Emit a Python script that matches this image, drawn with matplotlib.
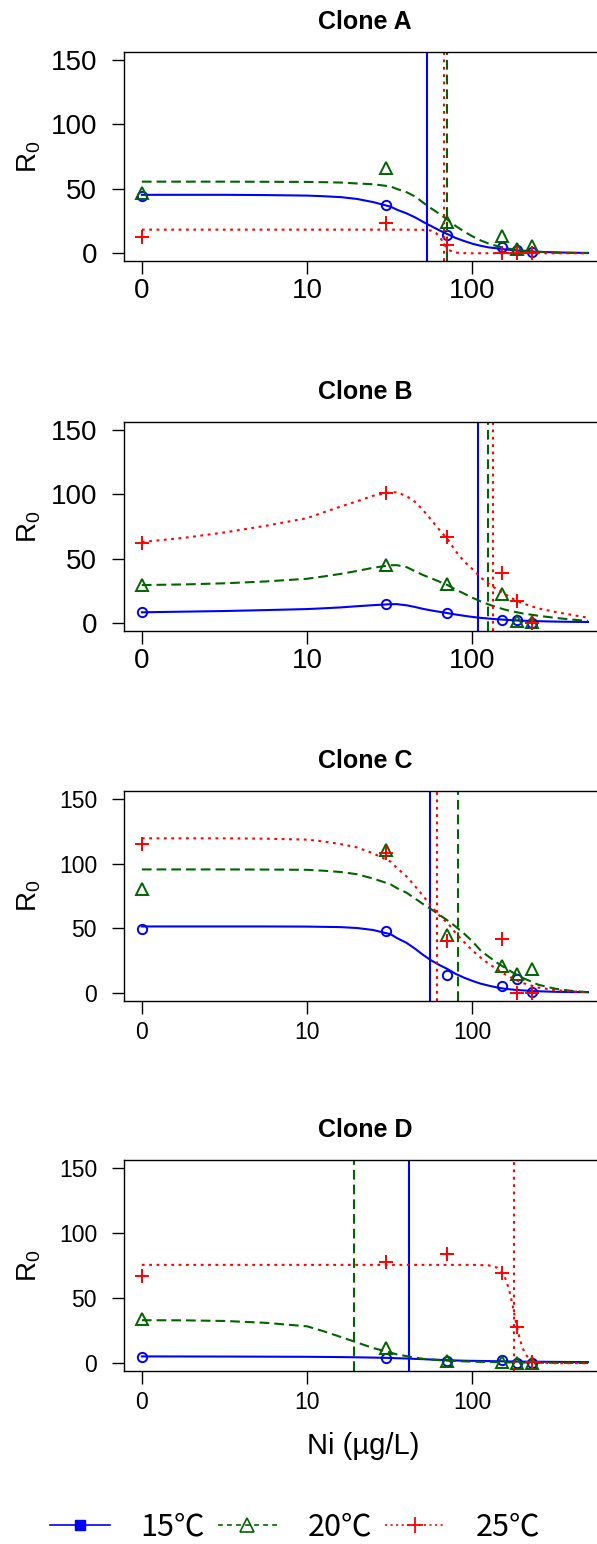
import numpy as np
import matplotlib
matplotlib.use("Agg")
import matplotlib.pyplot as plt
from matplotlib.lines import Line2D
from matplotlib.font_manager import FontProperties

plt.rcParams['font.family'] = ['Liberation Sans', 'DejaVu Sans']
plt.rcParams['mathtext.fontset'] = 'custom'
plt.rcParams['mathtext.rm'] = 'Liberation Sans'
plt.rcParams['lines.scale_dashes'] = False

# ---------------- data ----------------
CLONES = ["Clone A", "Clone B", "Clone C", "Clone D"]
TEMPS = ["15\u2103", "20\u2103", "25\u2103"]
XTICK_VALUES = [0, 10, 100]
XTICK_LABELS = ["0", "10", "100"]
YTICKS = [0, 50, 100, 150]

# measured Ni concentrations (ug/L)
CONC = [0, 30, 70, 150, 186, 228]

# observed R0 per clone and temperature (15, 20, 25 C)
A_15 = [44.5, 37.5, 14.2, 4.7, 2.6, 1.0]
A_20 = [46.8, 66.0, 24.6, 13.5, 3.0, 6.0]
A_25 = [12.3, 23.8, 6.5, 0.0, 0.0, 0.0]
B_15 = [8.5, 14.8, 8.0, 2.8, 2.3, 0.5]
B_20 = [29.6, 45.5, 30.3, 23.0, 2.0, 1.0]
B_25 = [62.3, 101.2, 67.0, 39.3, 17.3, 0.0]
C_15 = [49.3, 48.1, 14.0, 5.7, 11.0, 1.0]
C_20 = [80.7, 110.5, 45.0, 21.2, 14.8, 18.4]
C_25 = [114.8, 108.0, 39.9, 41.7, 0.0, 0.5]
D_15 = [5.1, 3.6, 1.8, 2.3, 0.5, 0.3]
D_20 = [33.8, 11.9, 1.8, 1.0, 0.5, 0.5]
D_25 = [67.2, 77.9, 83.9, 69.6, 27.7, 1.0]

# fitted curves
CURVE_CONC = [0, 1.8, 3.2, 5.6, 10, 12.6, 16, 20, 25, 32, 35, 40, 45, 50, 56, 63, 71, 79, 89,
              100, 112, 126, 141, 158, 178, 200, 251, 316, 398, 500]
A_15_FIT = [45.3, 45.3, 45.3, 45.1, 44.7, 44.2, 43.5, 42.1, 39.7, 36.1, 33.7, 30.9, 27.8, 24.5,
            21.2, 17.8, 14.7, 11.9, 9.5, 7.4, 5.8, 4.5, 3.8, 3.0, 2.3, 1.8, 1.1, 0.7, 0.4, 0.3]
A_20_FIT = [55.5, 55.5, 55.5, 55.4, 55.3, 55.1, 54.8, 54.1, 53.5, 51.8, 49.8, 47.3, 44.0, 39.5,
            35.0, 30.6, 25.8, 21.2, 16.9, 13.1, 10.0, 7.4, 5.5, 4.0, 2.9, 2.1, 1.1, 0.5, 0.3, 0.1]
A_25_FIT_CONC = [0, 10, 32, 50, 56, 60, 63, 66, 69, 72, 76, 79, 89, 100, 158, 500]
A_25_FIT = [18.3, 18.3, 18.3, 18.2, 17.6, 15.8, 13.1, 9.2, 5.2, 2.5, 1.1, 0.5, 0.1, 0.0, 0.0, 0.0]

B_15_FIT = [8.5, 9.0, 9.5, 10.2, 11.0, 11.6, 12.3, 13.2, 14.0, 14.8, 14.8, 13.9, 12.6, 11.2, 10.0,
            8.9, 7.8, 6.8, 5.8, 4.9, 4.2, 3.6, 3.1, 2.7, 2.3, 2.0, 1.6, 1.3, 1.1, 1.0]
B_20_FIT = [29.6, 30.1, 31.0, 32.4, 34.5, 36.3, 38.3, 40.5, 43.0, 45.0, 45.0, 43.5, 40.3, 37.5,
            35.0, 32.3, 29.5, 26.2, 23.0, 19.8, 17.0, 14.5, 12.3, 10.5, 9.0, 7.7, 5.8, 4.2, 2.9, 1.8]
B_25_FIT = [63.0, 66.2, 70.5, 75.5, 81.5, 86.0, 90.5, 94.5, 98.8, 101.5, 101.5, 98.5, 94.0, 88.0,
            80.5, 72.5, 65.0, 56.0, 48.0, 42.0, 35.5, 30.5, 26.0, 22.5, 18.5, 15.5, 11.5, 8.8,
            6.5, 4.3]

C_15_FIT = [51.5, 51.5, 51.5, 51.5, 51.4, 51.2, 51.0, 50.3, 48.8, 45.5, 42.5, 38.8, 34.3, 29.8,
            25.5, 21.8, 18.5, 15.0, 12.0, 9.5, 7.4, 5.8, 4.4, 3.4, 2.7, 2.2, 1.5, 1.1, 0.9, 0.8]
C_20_FIT = [95.5, 95.5, 95.5, 95.4, 95.2, 94.5, 93.5, 91.8, 88.5, 84.0, 81.0, 77.5, 73.0, 69.0,
            65.0, 60.5, 56.0, 51.5, 46.0, 40.0, 33.0, 28.0, 23.5, 19.5, 15.5, 12.0, 6.5, 3.5,
            1.8, 0.8]
C_25_FIT = [119.5, 119.5, 119.5, 119.2, 118.5, 117.0, 115.0, 112.5, 108.0, 101.5, 96.5, 90.0,
            82.5, 75.5, 67.5, 60.0, 54.0, 46.5, 39.5, 33.0, 27.5, 22.5, 18.5, 14.5, 11.0, 8.0,
            4.3, 2.4, 1.4, 0.8]

D_15_FIT = [5.2, 5.15, 5.1, 5.0, 4.9, 4.8, 4.7, 4.5, 4.3, 4.0, 3.8, 3.6, 3.3, 3.1, 2.8, 2.6,
            2.3, 2.1, 1.9, 1.8, 1.7, 1.6, 1.5, 1.4, 1.3, 1.2, 1.1, 1.0, 0.9, 0.8]
D_20_FIT = [33.0, 32.9, 32.4, 31.0, 28.3, 24.5, 20.1, 15.9, 11.7, 8.1, 6.7, 5.4, 4.3, 3.4, 2.8,
            2.3, 2.0, 1.7, 1.4, 1.2, 1.0, 0.9, 0.8, 0.7, 0.6, 0.5, 0.4, 0.3, 0.2, 0.1]
D_25_FIT_CONC = [0, 10, 32, 100, 126, 141, 151, 158, 166, 174, 182, 191, 200, 209, 224, 251, 316, 500]
D_25_FIT = [75.5, 75.5, 75.5, 75.5, 75.1, 73.4, 69.9, 65.1, 57.2, 46.1, 33.2, 21.3, 12.4, 6.8,
            2.6, 0.5, 0.0, 0.0]

# EC50 vertical lines (15, 20, 25 C)
EC_A = [53.1, 70.1, 66.9]
EC_B = [107.9, 125.0, 133.0]
EC_C = [55.1, 81.3, 61.0]
EC_D = [41.1, 19.3, 179.0]

# --------------- styling ---------------
COLORS = ["#0000ff", "#006400", "#ff0000"]
LSTYLES = ["-", (0, (7.0, 3.6)), (0, (2.0, 3.3))]
MARKERS = ["o", "^", "+"]
MSIZES = [6.7, 9.0, 9.5]
LW = 1.5

W, H = 597, 1544
fig = plt.figure(figsize=(W / 100, H / 100), dpi=100)


def pos(c):
    c = np.asarray(c, dtype=float)
    return np.log10(np.maximum(c, 1.0))


panel_px = [(52, 261), (422, 631), (791, 1001), (1160, 1371)]
tick_fs = [20, 20, 16.5, 16.5]
xpad = [3.6, 3.6, 5.6, 5.6]

obs = [[A_15, A_20, A_25], [B_15, B_20, B_25], [C_15, C_20, C_25], [D_15, D_20, D_25]]
fits = [
    [(CURVE_CONC, A_15_FIT), (CURVE_CONC, A_20_FIT), (A_25_FIT_CONC, A_25_FIT)],
    [(CURVE_CONC, B_15_FIT), (CURVE_CONC, B_20_FIT), (CURVE_CONC, B_25_FIT)],
    [(CURVE_CONC, C_15_FIT), (CURVE_CONC, C_20_FIT), (CURVE_CONC, C_25_FIT)],
    [(CURVE_CONC, D_15_FIT), (CURVE_CONC, D_20_FIT), (D_25_FIT_CONC, D_25_FIT)],
]
ecs = [EC_A, EC_B, EC_C, EC_D]

left_px, right_px = 124, 606
for i, (top, bot) in enumerate(panel_px):
    ax = fig.add_axes([left_px / W, 1 - bot / H, (right_px - left_px) / W, (bot - top) / H])
    for k in range(3):
        fx, fy = fits[i][k]
        ax.plot(pos(fx), fy, color=COLORS[k], linestyle=LSTYLES[k], lw=LW)
        ax.axvline(pos(ecs[i][k]), color=COLORS[k], linestyle=LSTYLES[k], lw=LW)
        ax.plot(pos(CONC), obs[i][k], linestyle='none', marker=MARKERS[k],
                markersize=MSIZES[k], markerfacecolor='none', markeredgecolor=COLORS[k],
                markeredgewidth=1.4)
    ax.set_xlim(-0.108, 2.808)
    ax.set_ylim(-6, 156)
    ax.set_xticks(pos(XTICK_VALUES))
    ax.set_xticklabels(XTICK_LABELS)
    ax.set_yticks(YTICKS)
    ax.tick_params(axis='both', direction='out', length=9, width=1.0, labelsize=tick_fs[i])
    ax.tick_params(axis='y', pad=10.4)
    ax.tick_params(axis='x', pad=xpad[i])
    for sp in ax.spines.values():
        sp.set_linewidth(1.0)
    ax.set_title(CLONES[i], fontweight='bold', fontsize=18, pad=16.5)
    ax.text(-0.196, 0.5, r'$\mathregular{R_0}$', rotation=90, ha='center', va='center',
            fontsize=20, transform=ax.transAxes)

fig.text(363 / W, 1 - 1446 / H, "Ni (\u00b5g/L)", ha='center', va='center', fontsize=21)

handles = [
    Line2D([], [], color=COLORS[0], linestyle='-', lw=1.2, marker='s', markersize=7.5,
           markerfacecolor=COLORS[0], markeredgecolor=COLORS[0]),
    Line2D([], [], color=COLORS[1], linestyle=(0, (3.5, 3.0)), lw=1.2, marker='^', markersize=9.5,
           markerfacecolor='none', markeredgecolor=COLORS[1], markeredgewidth=1.2),
    Line2D([], [], color=COLORS[2], linestyle=(0, (1.5, 2.5)), lw=1.2, marker='+', markersize=11,
           markeredgecolor=COLORS[2], markeredgewidth=1.3),
]
leg_font = FontProperties(family=['Noto Sans CJK SC', 'DejaVu Sans'], size=22)
fig.legend(handles, TEMPS, loc='center', bbox_to_anchor=(295 / W, 1 - 1527 / H), ncol=3,
           frameon=False, prop=leg_font, handlelength=1.96, handletextpad=1.0,
           columnspacing=0.42, borderpad=0, borderaxespad=0)

fig.savefig("out.png", dpi=100)
